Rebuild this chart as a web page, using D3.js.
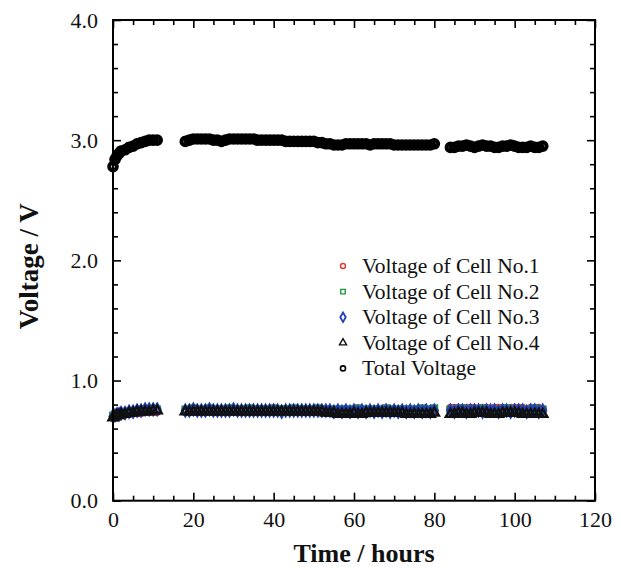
<!DOCTYPE html>
<html>
<head>
<meta charset="utf-8">
<script src="https://cdn.jsdelivr.net/npm/d3@7"></script>
<style>
  html, body { margin: 0; padding: 0; background: #fff; }
  svg { display: block; font-family: "Liberation Serif", "Times New Roman", serif; }
</style>
</head>
<body>
<div id="chart"></div>
<script>
// time in hours (three recording segments with gaps between)
const TIME = [
  0, 0.5, 1, 1.5, 2, 3, 4, 5, 6, 7, 8, 9, 10, 11,
  18, 19, 20, 21, 22, 23, 24, 25, 26, 27, 28, 29, 30, 31, 32, 33, 34, 35, 36, 37,
  38, 39, 40, 41, 42, 43, 44, 45, 46, 47, 48, 49, 50, 51, 52, 53, 54, 55, 56, 57,
  58, 59, 60, 61, 62, 63, 64, 65, 66, 67, 68, 69, 70, 71, 72, 73, 74, 75, 76, 77,
  78, 79, 80,
  84, 85, 86, 87, 88, 89, 90, 91, 92, 93, 94, 95, 96, 97, 98, 99, 100, 101, 102, 103,
  104, 105, 106, 107
];

const TOTAL = [
  2.78, 2.84, 2.87, 2.89, 2.91, 2.92, 2.94, 2.95, 2.97, 2.98, 2.99, 3.00, 3.00, 3.00,
  2.99, 3.00, 3.01, 3.01, 3.01, 3.01, 3.01, 3.00, 3.00, 2.99, 3.00, 3.01, 3.01, 3.01, 3.01, 3.01, 3.01, 3.01, 3.00, 3.00,
  3.00, 3.00, 3.00, 3.00, 3.00, 2.99, 2.99, 2.99, 2.99, 2.99, 2.99, 2.99, 2.99, 2.98, 2.98, 2.97, 2.97, 2.96, 2.96, 2.96,
  2.97, 2.97, 2.97, 2.97, 2.97, 2.97, 2.96, 2.97, 2.97, 2.97, 2.97, 2.97, 2.96, 2.96, 2.96, 2.96, 2.96, 2.96, 2.96, 2.96,
  2.96, 2.96, 2.97,
  2.94, 2.94, 2.95, 2.95, 2.96, 2.95, 2.94, 2.95, 2.96, 2.95, 2.95, 2.94, 2.94, 2.95, 2.95, 2.96, 2.95, 2.94, 2.94, 2.94,
  2.95, 2.94, 2.94, 2.95
];

const CELL1 = [
  0.70, 0.71, 0.71, 0.72, 0.72, 0.72, 0.73, 0.73, 0.73, 0.73, 0.74, 0.74, 0.74, 0.74,
  0.75, 0.75, 0.75, 0.75, 0.75, 0.75, 0.75, 0.75, 0.75, 0.75, 0.75, 0.75, 0.75, 0.75, 0.76, 0.75, 0.75, 0.75, 0.75, 0.75,
  0.75, 0.75, 0.75, 0.75, 0.75, 0.75, 0.75, 0.75, 0.75, 0.75, 0.75, 0.75, 0.75, 0.75, 0.75, 0.74, 0.74, 0.74, 0.74, 0.74,
  0.74, 0.74, 0.74, 0.74, 0.74, 0.74, 0.74, 0.74, 0.74, 0.74, 0.74, 0.74, 0.74, 0.74, 0.74, 0.74, 0.74, 0.74, 0.74, 0.74,
  0.74, 0.74, 0.75,
  0.77, 0.77, 0.77, 0.76, 0.77, 0.77, 0.77, 0.76, 0.77, 0.77, 0.76, 0.77, 0.77, 0.77, 0.76, 0.77, 0.77, 0.77, 0.77, 0.76,
  0.77, 0.77, 0.77, 0.76
];

const CELL2 = [
  0.71, 0.72, 0.72, 0.73, 0.73, 0.74, 0.74, 0.75, 0.75, 0.76, 0.76, 0.76, 0.76, 0.76,
  0.76, 0.76, 0.77, 0.76, 0.76, 0.76, 0.77, 0.76, 0.76, 0.76, 0.76, 0.77, 0.76, 0.76, 0.76, 0.76, 0.77, 0.76, 0.76, 0.76,
  0.76, 0.76, 0.77, 0.76, 0.76, 0.76, 0.76, 0.77, 0.76, 0.76, 0.76, 0.76, 0.76, 0.77, 0.76, 0.76, 0.76, 0.76, 0.76, 0.76,
  0.76, 0.76, 0.76, 0.77, 0.76, 0.76, 0.76, 0.76, 0.76, 0.76, 0.77, 0.76, 0.76, 0.76, 0.76, 0.76, 0.76, 0.76, 0.76, 0.77,
  0.76, 0.76, 0.77,
  0.76, 0.76, 0.76, 0.77, 0.76, 0.76, 0.76, 0.76, 0.77, 0.76, 0.76, 0.76, 0.76, 0.76, 0.77, 0.76, 0.76, 0.76, 0.76, 0.76,
  0.76, 0.77, 0.76, 0.76
];

const CELL3 = [
  0.70, 0.71, 0.72, 0.72, 0.73, 0.73, 0.74, 0.74, 0.75, 0.75, 0.76, 0.76, 0.76, 0.76,
  0.75, 0.75, 0.76, 0.75, 0.75, 0.75, 0.76, 0.75, 0.75, 0.75, 0.75, 0.75, 0.76, 0.75, 0.75, 0.75, 0.75, 0.75, 0.75, 0.75,
  0.75, 0.75, 0.75, 0.75, 0.74, 0.75, 0.75, 0.75, 0.75, 0.75, 0.75, 0.75, 0.75, 0.75, 0.75, 0.75, 0.75, 0.74, 0.75, 0.74,
  0.75, 0.74, 0.75, 0.74, 0.75, 0.74, 0.75, 0.74, 0.75, 0.74, 0.75, 0.74, 0.75, 0.74, 0.75, 0.74, 0.75, 0.74, 0.75, 0.74,
  0.75, 0.74, 0.75,
  0.75, 0.74, 0.75, 0.75, 0.74, 0.75, 0.75, 0.75, 0.74, 0.75, 0.75, 0.75, 0.74, 0.75, 0.75, 0.74, 0.75, 0.75, 0.75, 0.74,
  0.75, 0.75, 0.74, 0.75
];

const CELL4 = [
  0.69, 0.70, 0.71, 0.71, 0.72, 0.72, 0.73, 0.73, 0.74, 0.74, 0.74, 0.74, 0.75, 0.75,
  0.74, 0.74, 0.74, 0.74, 0.74, 0.74, 0.74, 0.74, 0.74, 0.74, 0.74, 0.74, 0.74, 0.74, 0.74, 0.74, 0.74, 0.74, 0.74, 0.74,
  0.74, 0.74, 0.74, 0.74, 0.74, 0.74, 0.74, 0.74, 0.74, 0.74, 0.74, 0.74, 0.74, 0.74, 0.74, 0.73, 0.73, 0.73, 0.72, 0.72,
  0.72, 0.72, 0.73, 0.72, 0.72, 0.73, 0.73, 0.73, 0.73, 0.73, 0.73, 0.73, 0.73, 0.73, 0.73, 0.72, 0.72, 0.72, 0.72, 0.72,
  0.72, 0.72, 0.73,
  0.72, 0.72, 0.73, 0.73, 0.72, 0.72, 0.73, 0.73, 0.73, 0.73, 0.72, 0.72, 0.72, 0.73, 0.73, 0.73, 0.73, 0.73, 0.72, 0.72,
  0.72, 0.72, 0.72, 0.72
];

const SERIES_NAMES = [
  'Voltage of Cell No.1',
  'Voltage of Cell No.2',
  'Voltage of Cell No.3',
  'Voltage of Cell No.4',
  'Total Voltage'
];

const X_TICKS = [0, 20, 40, 60, 80, 100, 120];
const X_MINOR = [5, 10, 15, 25, 30, 35, 45, 50, 55, 65, 70, 75, 85, 90, 95, 105, 110, 115];
const Y_TICKS = [0, 1, 2, 3, 4];
const Y_MINOR = [0.2, 0.4, 0.6, 0.8, 1.2, 1.4, 1.6, 1.8, 2.2, 2.4, 2.6, 2.8, 3.2, 3.4, 3.6, 3.8];

const W = 621, H = 568;
const PLOT = { left: 113, right: 595, top: 20, bottom: 500.7 };

const series = [
  { name: SERIES_NAMES[0], values: CELL1, symbol: d3.symbolCircle, color: '#e23a2e', size: 34, sw: 2.2, leg: 20, legSw: 1.4 },
  { name: SERIES_NAMES[1], values: CELL2, symbol: d3.symbolSquare, color: '#1c9a3c', size: 32, sw: 2.2, leg: 20, legSw: 1.4 },
  { name: SERIES_NAMES[2], values: CELL3, symbol: d3.symbolDiamond, color: '#2440b8', size: 36, sw: 2.4, leg: 26, legSw: 1.8 },
  { name: SERIES_NAMES[3], values: CELL4, symbol: d3.symbolTriangle, color: '#111', size: 36, sw: 2.4, leg: 22, legSw: 1.4 },
  { name: SERIES_NAMES[4], values: TOTAL, symbol: d3.symbolCircle, color: '#000', size: 46, sw: 4, leg: 20, legSw: 1.6 }
];

const svg = d3.select('#chart').append('svg')
  .attr('width', W)
  .attr('height', H);

const x = d3.scaleLinear().domain([0, 120]).range([PLOT.left, PLOT.right]);
const y = d3.scaleLinear().domain([0, 4]).range([PLOT.bottom, PLOT.top]);

// data markers
series.forEach(s => {
  svg.append('g')
    .selectAll('path')
    .data(TIME.map((t, i) => [t, s.values[i]]))
    .join('path')
    .attr('transform', d => `translate(${x(d[0])},${y(d[1])})`)
    .attr('d', d3.symbol().type(s.symbol).size(s.size))
    .attr('fill', 'none')
    .attr('stroke', s.color)
    .attr('stroke-width', s.sw);
});

// ticks on all four sides, pointing inward
function styleAxis(g) {
  g.select('.domain').remove();
  g.selectAll('line').attr('stroke', '#000').attr('stroke-width', 1.6);
  g.selectAll('text')
    .attr('font-family', '"Liberation Serif", "Times New Roman", serif')
    .attr('font-size', 22)
    .attr('fill', '#111');
}

svg.append('g')
  .attr('transform', `translate(0,${PLOT.bottom})`)
  .call(d3.axisBottom(x).tickValues(X_TICKS).tickSize(-8).tickPadding(11).tickFormat(d3.format('d')))
  .call(styleAxis);
svg.append('g')
  .attr('transform', `translate(0,${PLOT.bottom})`)
  .call(d3.axisBottom(x).tickValues(X_MINOR).tickSize(-5).tickFormat(''))
  .call(styleAxis);
svg.append('g')
  .attr('transform', `translate(0,${PLOT.top})`)
  .call(d3.axisTop(x).tickValues(X_TICKS).tickSize(-8).tickFormat(''))
  .call(styleAxis);
svg.append('g')
  .attr('transform', `translate(0,${PLOT.top})`)
  .call(d3.axisTop(x).tickValues(X_MINOR).tickSize(-5).tickFormat(''))
  .call(styleAxis);

svg.append('g')
  .attr('transform', `translate(${PLOT.left},0)`)
  .call(d3.axisLeft(y).tickValues(Y_TICKS).tickSize(-8).tickPadding(15).tickFormat(d3.format('.1f')))
  .call(styleAxis);
svg.append('g')
  .attr('transform', `translate(${PLOT.left},0)`)
  .call(d3.axisLeft(y).tickValues(Y_MINOR).tickSize(-5).tickFormat(''))
  .call(styleAxis);
svg.append('g')
  .attr('transform', `translate(${PLOT.right},0)`)
  .call(d3.axisRight(y).tickValues(Y_TICKS).tickSize(-8).tickFormat(''))
  .call(styleAxis);
svg.append('g')
  .attr('transform', `translate(${PLOT.right},0)`)
  .call(d3.axisRight(y).tickValues(Y_MINOR).tickSize(-5).tickFormat(''))
  .call(styleAxis);

// frame
svg.append('rect')
  .attr('x', PLOT.left)
  .attr('y', PLOT.top)
  .attr('width', PLOT.right - PLOT.left)
  .attr('height', PLOT.bottom - PLOT.top)
  .attr('fill', 'none')
  .attr('stroke', '#000')
  .attr('stroke-width', 2);

// axis titles
svg.append('text')
  .attr('x', 364)
  .attr('y', 562)
  .attr('text-anchor', 'middle')
  .attr('font-size', 26)
  .attr('font-weight', 'bold')
  .attr('fill', '#111')
  .text('Time / hours');

svg.append('text')
  .attr('transform', `translate(38,${(PLOT.top + PLOT.bottom) / 2 + 6}) rotate(-90)`)
  .attr('text-anchor', 'middle')
  .attr('font-size', 27)
  .attr('font-weight', 'bold')
  .attr('fill', '#111')
  .text('Voltage / V');

// legend
const legend = svg.append('g').attr('transform', 'translate(343,266)');
series.forEach((s, i) => {
  const row = legend.append('g').attr('transform', `translate(0,${i * 25.6})`);
  row.append('path')
    .attr('d', d3.symbol().type(s.symbol).size(s.leg))
    .attr('fill', 'none')
    .attr('stroke', s.color)
    .attr('stroke-width', s.legSw);
  row.append('text')
    .attr('x', 19)
    .attr('y', 7)
    .attr('font-size', 21.5)
    .attr('fill', '#111')
    .text(s.name);
});
</script>
</body>
</html>
